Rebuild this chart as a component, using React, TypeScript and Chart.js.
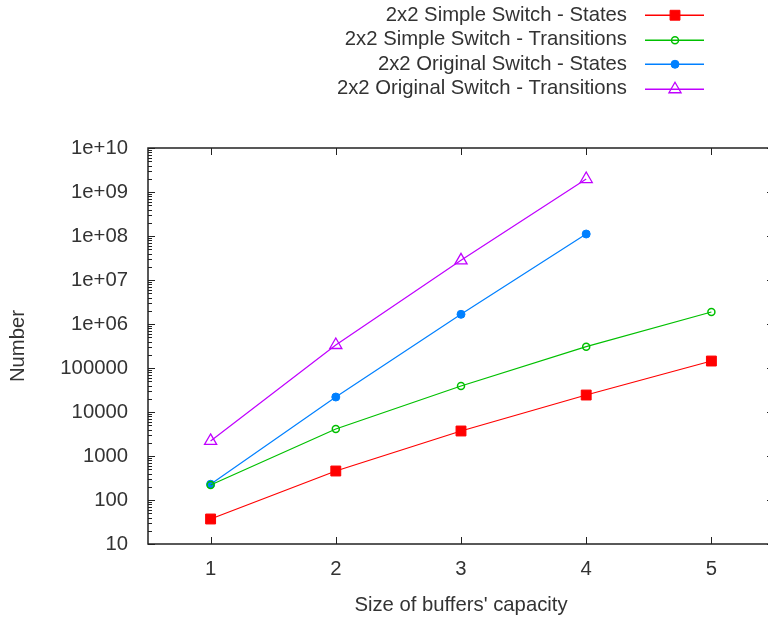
import React, { useEffect, useRef } from "react";
import { Chart, registerables } from "chart.js";
import { drawPoint } from "chart.js/helpers";

Chart.register(...registerables);

const bufferSizes = [1, 2, 3, 4, 5];
const simpleStates = [37, 456, 3700, 24300, 144000];
const simpleTransitions = [219, 4100, 39000, 305000, 1870000];
const originalStates = [228, 21900, 1660000, 111000000];
const originalTransitions = [2200, 333000, 28000000, 1970000000];
const yDecades = [1, 2, 3, 4, 5, 6, 7, 8, 9, 10];
const xTicks = [1, 2, 3, 4, 5];
const seriesColors = ["#ff0000", "#00c000", "#0080ff", "#c000ff"];

const FONT = "'Liberation Sans', Arial, sans-serif";
const FSIZE = 20.3;
const TEXT = "#333";

function fmtY(v: number): string {
  const e = Math.round(Math.log10(v));
  if (e >= 6) return "1e+" + (e < 10 ? "0" + e : String(e));
  return String(Math.round(v));
}

const framePlugin = {
  id: "frame",
  afterDatasetsDraw(chart: any) {
    const { ctx, chartArea } = chart;
    const { left, right, top, bottom } = chartArea;
    const ys = chart.scales.y;
    const xs = chart.scales.x;
    ctx.save();
    ctx.strokeStyle = "#222";
    ctx.lineWidth = 1;
    ctx.beginPath();
    yDecades.forEach((e) => {
      const p = Math.round(ys.getPixelForValue(Math.pow(10, e))) + 0.5;
      ctx.moveTo(left, p);
      ctx.lineTo(left + 7, p);
      ctx.moveTo(right, p);
      ctx.lineTo(right - 7, p);
      if (e < 10) {
        for (let m = 2; m <= 9; m++) {
          const q = Math.round(ys.getPixelForValue(m * Math.pow(10, e))) + 0.5;
          ctx.moveTo(left, q);
          ctx.lineTo(left + 4, q);
          ctx.moveTo(right, q);
          ctx.lineTo(right - 4, q);
        }
      }
    });
    xTicks.forEach((v) => {
      const p = Math.round(xs.getPixelForValue(v)) + 0.5;
      ctx.moveTo(p, bottom);
      ctx.lineTo(p, bottom - 7);
      ctx.moveTo(p, top);
      ctx.lineTo(p, top + 7);
    });
    ctx.stroke();
    ctx.lineWidth = 1.5;
    ctx.strokeRect(left, top, right - left, bottom - top);
    ctx.restore();
  },
  afterDraw(chart: any) {
    const { ctx } = chart;
    chart.data.datasets.forEach((ds: any, i: number) => {
      const y = 15 + i * 24.5;
      const yl = Math.round(y);
      const col = seriesColors[i];
      ctx.save();
      ctx.font = FSIZE + "px " + FONT;
      ctx.fillStyle = TEXT;
      ctx.textAlign = "right";
      ctx.textBaseline = "middle";
      ctx.fillText(ds.label, 627, y);
      ctx.fillStyle = col;
      ctx.fillRect(645, yl - 0.5, 59, 1.5);
      ctx.fillStyle = ds.pointBackgroundColor;
      ctx.strokeStyle = col;
      ctx.lineWidth = ds.pointBorderWidth;
      drawPoint(
        ctx,
        {
          pointStyle: ds.pointStyle,
          radius: ds.pointRadius,
          borderWidth: ds.pointBorderWidth,
          rotation: 0,
        } as any,
        675,
        yl + 0.25
      );
      ctx.restore();
    });
  },
};

function mk(xs: number[], ys: number[]) {
  return ys.map((v, i) => ({ x: xs[i], y: v }));
}

export default function App() {
  const ref = useRef<HTMLCanvasElement | null>(null);
  useEffect(() => {
    document.body.style.margin = "0";
    const canvas = ref.current!;
    const chart = new Chart(canvas, {
      type: "line",
      data: {
        datasets: [
          {
            label: "2x2 Simple Switch - States",
            data: mk(bufferSizes, simpleStates),
            borderColor: seriesColors[0],
            backgroundColor: seriesColors[0],
            pointBackgroundColor: seriesColors[0],
            pointStyle: "rect",
            pointRadius: 7,
            pointBorderWidth: 1,
            borderWidth: 1.2,
          },
          {
            label: "2x2 Simple Switch - Transitions",
            data: mk(bufferSizes, simpleTransitions),
            borderColor: seriesColors[1],
            backgroundColor: seriesColors[1],
            pointBackgroundColor: "rgba(255,255,255,0)",
            pointStyle: "circle",
            pointRadius: 3.5,
            pointBorderWidth: 1.5,
            borderWidth: 1.2,
          },
          {
            label: "2x2 Original Switch - States",
            data: mk(bufferSizes, originalStates),
            borderColor: seriesColors[2],
            backgroundColor: seriesColors[2],
            pointBackgroundColor: seriesColors[2],
            pointStyle: "circle",
            pointRadius: 4,
            pointBorderWidth: 1,
            borderWidth: 1.2,
          },
          {
            label: "2x2 Original Switch - Transitions",
            data: mk(bufferSizes, originalTransitions),
            borderColor: seriesColors[3],
            backgroundColor: seriesColors[3],
            pointBackgroundColor: "rgba(255,255,255,0)",
            pointStyle: "triangle",
            pointRadius: 7,
            pointBorderWidth: 1.3,
            borderWidth: 1.2,
          },
        ],
      },
      options: {
        responsive: false,
        animation: false,
        layout: { padding: { top: 148, left: 0, right: 16, bottom: 0 } },
        plugins: {
          legend: { display: false },
          tooltip: { enabled: false },
        },
        scales: {
          x: {
            type: "linear",
            min: 0.5,
            max: 5.5,
            grid: { display: false, drawTicks: false },
            border: { display: false },
            afterBuildTicks: (s: any) => {
              s.ticks = xTicks.map((v) => ({ value: v }));
            },
            afterFit: (s: any) => {
              s.height = 75;
            },
            ticks: {
              padding: 13,
              color: TEXT,
              font: { family: FONT, size: FSIZE },
              callback: (v: any) => String(v),
            },
            title: {
              display: true,
              text: "Size of buffers' capacity",
              color: TEXT,
              font: { family: FONT, size: FSIZE },
              padding: { top: 0, bottom: 1 },
            },
          },
          y: {
            type: "logarithmic",
            min: 10,
            max: 1e10,
            grid: { display: false, drawTicks: false },
            border: { display: false },
            afterBuildTicks: (s: any) => {
              s.ticks = yDecades.map((e) => ({ value: Math.pow(10, e) }));
            },
            afterFit: (s: any) => {
              s.width = 148;
            },
            ticks: {
              padding: 20,
              color: TEXT,
              font: { family: FONT, size: FSIZE },
              callback: (v: any) => fmtY(Number(v)),
            },
            title: {
              display: true,
              text: "Number",
              color: TEXT,
              font: { family: FONT, size: FSIZE },
              padding: { top: 6, bottom: 0 },
            },
          },
        },
      },
      plugins: [framePlugin],
    } as any);
    return () => chart.destroy();
  }, []);
  return (
    <div style={{ width: 768, height: 619, overflow: "hidden", position: "relative", background: "#fff" }}>
      <canvas ref={ref} width={790} height={619} style={{ display: "block" }} />
    </div>
  );
}
